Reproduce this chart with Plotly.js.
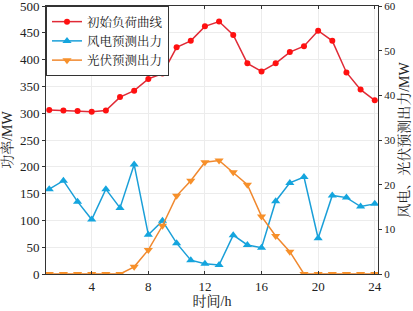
<!DOCTYPE html>
<html><head><meta charset="utf-8">
<script src="https://cdn.plot.ly/plotly-3.0.1.min.js"></script>
<style>html,body{margin:0;padding:0;background:#fff}#c{width:413px;height:311px}</style>
</head><body><div id="c"></div>
<script>
const hours = [1,2,3,4,5,6,7,8,9,10,11,12,13,14,15,16,17,18,19,20,21,22,23,24];
const loadMW = [306,305,304,302.5,305,330,342,364,374,423,435,462,471,446,393,378,393,414,425,454,435,376,344,324];
const windMW = [19.0,20.9,16.2,12.2,19.0,14.8,24.5,8.8,11.9,6.9,3.1,2.3,2.0,8.7,6.5,5.9,16.3,20.4,21.7,8.0,17.6,17.1,15.1,15.7];
const pvMW = [0,0,0,0,0,0,1.6,5.4,10.8,17.5,20.9,25.0,25.4,22.8,20.0,12.9,8.5,5.0,0,0,0,0,0,0];
const names = ['初始负荷曲线','风电预测出力','光伏预测出力'];
const xTicks = [4,8,12,16,20,24];

const F = '"Liberation Serif", "Noto Serif CJK SC", "Noto Sans CJK SC", serif';
const traces = [
  {x: hours, y: loadMW, name: names[0], mode: 'lines+markers', yaxis: 'y',
   line: {color: '#e02a36', width: 1.5}, marker: {color: '#ff1010', size: 6, symbol: 'circle'}},
  {x: hours, y: windMW, name: names[1], mode: 'lines+markers', yaxis: 'y2',
   line: {color: '#1a9fd8', width: 1.5}, marker: {color: '#14a5de', size: 8, symbol: 'triangle-up'}},
  {x: hours, y: pvMW, name: names[2], mode: 'lines+markers', yaxis: 'y2',
   line: {color: '#f0882e', width: 1.5}, marker: {color: '#f7902a', size: 8, symbol: 'triangle-down'}}
];
const axCommon = {showline: true, linecolor: '#333', linewidth: 1, gridcolor: '#ececec', zeroline: false,
  tickfont: {family: F, size: 13, color: '#222'}, ticklen: 3, tickcolor: '#333', ticklabeloverflow: 'allow'};
const layout = {
  width: 413, height: 311,
  margin: {l: 46, r: 35, t: 6, b: 37},
  paper_bgcolor: '#fff', plot_bgcolor: '#fff',
  font: {family: F, color: '#222'},
  showlegend: true,
  legend: {x: 0, y: 1, xanchor: 'left', yanchor: 'top', bgcolor: '#fff', bordercolor: '#333', borderwidth: 1,
    font: {family: F, size: 12.5, color: '#222'}, tracegroupgap: 0, itemwidth: 30},
  xaxis: Object.assign({}, axCommon, {range: [0.77, 24.23], tickvals: xTicks, ticks: 'inside', mirror: 'ticks',
    title: {text: '时间/h', font: {family: F, size: 14}, standoff: 2}}),
  yaxis: Object.assign({}, axCommon, {range: [0, 500], dtick: 50, ticks: 'outside',
    title: {text: '功率/MW', font: {family: F, size: 14}, standoff: 6}}),
  yaxis2: Object.assign({}, axCommon, {overlaying: 'y', side: 'right', range: [0, 60], dtick: 10, ticks: 'outside',
    showgrid: false, tickfont: {family: F, size: 11, color: '#222'},
    title: {text: '风电、光伏预测出力/MW', font: {family: F, size: 14}, standoff: 2}})
};
Plotly.newPlot('c', traces, layout, {staticPlot: true, displayModeBar: false});
</script></body></html>
